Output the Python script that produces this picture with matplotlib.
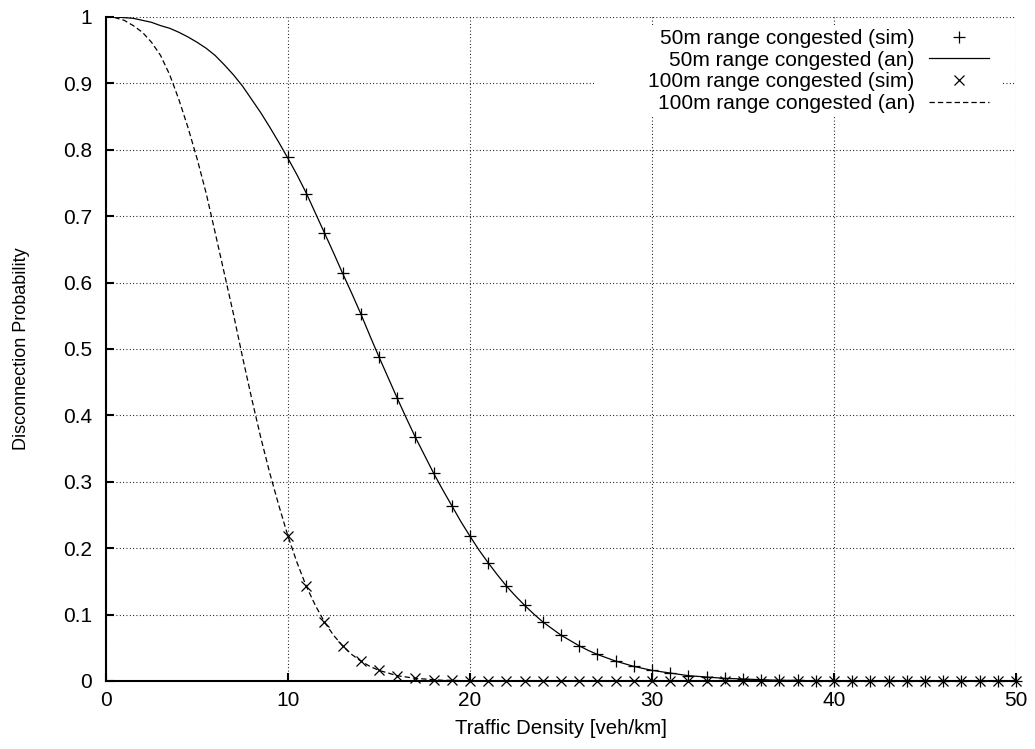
import matplotlib
matplotlib.use('Agg')
import matplotlib.pyplot as plt
from matplotlib.patches import Rectangle

# analytic curve, 50m range (0.5 steps up to 30, then 1 step)
x50_an = [0, 0.5, 1, 1.5, 2, 2.5, 3, 3.5, 4, 4.5, 5, 5.5, 6, 6.5, 7, 7.5, 8, 8.5, 9, 9.5,
          10, 10.5, 11, 11.5, 12, 12.5, 13, 13.5, 14, 14.5, 15, 15.5, 16, 16.5, 17, 17.5,
          18, 18.5, 19, 19.5, 20, 20.5, 21, 21.5, 22, 22.5, 23, 23.5, 24, 24.5, 25, 25.5,
          26, 26.5, 27, 27.5, 28, 28.5, 29, 29.5, 30, 31, 32, 33, 34, 35, 36, 37, 38, 39,
          40, 41, 42, 43, 44, 45, 46, 47, 48, 49, 50]
p50_an = [1.000, 1.000, 0.999, 0.998, 0.995, 0.992, 0.987, 0.983, 0.977, 0.970, 0.962, 0.953,
          0.942, 0.928, 0.913, 0.896, 0.876, 0.856, 0.834, 0.811, 0.787, 0.762, 0.735, 0.705,
          0.675, 0.645, 0.614, 0.584, 0.553, 0.520, 0.488, 0.457, 0.426, 0.396, 0.367, 0.340,
          0.313, 0.288, 0.264, 0.240, 0.218, 0.197, 0.178, 0.160, 0.143, 0.128, 0.114, 0.101,
          0.089, 0.079, 0.069, 0.061, 0.053, 0.046, 0.040, 0.035, 0.030, 0.026, 0.022, 0.019,
          0.016, 0.012, 0.008, 0.006, 0.004, 0.003, 0.002, 0.001, 0.001, 0.0,
          0.0, 0.0, 0.0, 0.0, 0.0, 0.0, 0.0, 0.0, 0.0, 0.0, 0.0]

# analytic curve, 100m range
x100_an = [0, 0.5, 1, 1.5, 2, 2.5, 3, 3.5, 4, 4.5, 5, 5.5, 6, 6.5, 7, 7.5, 8, 8.5, 9, 9.5,
           10, 10.5, 11, 11.5, 12, 12.5, 13, 13.5, 14, 14.5, 15, 15.5, 16, 16.5, 17, 17.5,
           18, 18.5, 19, 20, 25, 30, 35, 40, 45, 50]
p100_an = [1.000, 0.999, 0.995, 0.987, 0.977, 0.962, 0.942, 0.913, 0.876, 0.834, 0.787, 0.735,
           0.675, 0.614, 0.553, 0.488, 0.426, 0.367, 0.313, 0.264, 0.218, 0.178, 0.143, 0.114,
           0.089, 0.069, 0.053, 0.040, 0.030, 0.022, 0.016, 0.012, 0.008, 0.006, 0.004, 0.003,
           0.002, 0.001, 0.001, 0.0, 0.0, 0.0, 0.0, 0.0, 0.0, 0.0]

# simulation points
x_sim = list(range(10, 51))
p50_sim = [0.789, 0.734, 0.675, 0.614, 0.552, 0.488, 0.426, 0.367, 0.313, 0.264,
           0.218, 0.178, 0.143, 0.114, 0.089, 0.069, 0.053, 0.040, 0.030, 0.022,
           0.016, 0.012, 0.008, 0.006, 0.004, 0.003, 0.002, 0.001, 0.001, 0.0,
           0.0, 0.0, 0.0, 0.0, 0.0, 0.0, 0.0, 0.0, 0.0, 0.0, 0.0]
p100_sim = [0.219, 0.143, 0.089, 0.053, 0.030, 0.016, 0.008, 0.004, 0.002, 0.001,
            0.0, 0.0, 0.0, 0.0, 0.0, 0.0, 0.0, 0.0, 0.0, 0.0,
            0.0, 0.0, 0.0, 0.0, 0.0, 0.0, 0.0, 0.0, 0.0, 0.0,
            0.0, 0.0, 0.0, 0.0, 0.0, 0.0, 0.0, 0.0, 0.0, 0.0, 0.0]

labels = ['50m range congested (sim)', '50m range congested (an)',
          '100m range congested (sim)', '100m range congested (an)']

plt.rcParams['font.family'] = ['Liberation Sans', 'DejaVu Sans']
plt.rcParams['font.size'] = 15

fig = plt.figure(figsize=(10.35, 7.49), dpi=100)
ax = fig.add_axes([106 / 1035, 68 / 749, 910 / 1035, 664 / 749])

ax.plot(x_sim, p50_sim, linestyle='none', marker='+', markersize=9, markeredgewidth=0.9,
        color='black', clip_on=False, label=labels[0], zorder=3)
ax.plot(x50_an, p50_an, '-', color='black', linewidth=0.9, label=labels[1], zorder=2)
ax.plot(x_sim, p100_sim, linestyle='none', marker='x', markersize=7, markeredgewidth=0.9,
        color='black', clip_on=False, label=labels[2], zorder=3)
ax.plot(x100_an, p100_an, color='black', linewidth=0.9, linestyle=(0, (4.3, 2.4)),
        label=labels[3], zorder=2)

ax.set_xlim(0, 50)
ax.set_ylim(0, 1)
ax.set_xticks(range(0, 51, 10))
ax.set_yticks([i / 10 for i in range(11)])
ax.set_yticklabels(['0', '0.1', '0.2', '0.3', '0.4', '0.5', '0.6', '0.7', '0.8', '0.9', '1'])

ax.grid(True, color='black', linestyle=(0, (0.8, 2.2)), linewidth=0.8)
ax.set_axisbelow(True)
for s in ['top', 'right']:
    ax.spines[s].set_visible(False)
for s in ['left', 'bottom']:
    ax.spines[s].set_linewidth(1.5)
ax.tick_params(direction='in', length=6, width=1.5, labelsize=15)
ax.tick_params(axis='y', pad=10)
ax.tick_params(axis='x', pad=7)

ax.set_xlabel('Traffic Density [veh/km]', fontsize=14.7)
ax.set_ylabel('Disconnection Probability', fontsize=13)
ax.xaxis.set_label_coords(0.5, -0.057)
ax.yaxis.set_label_coords(-0.084, 0.5)

# white box behind the key, like gnuplot
ax.add_patch(Rectangle((26.8, 0.852), 22.4, 0.136, facecolor='white', edgecolor='none',
                       zorder=1.5))

ax.legend(loc='upper right', bbox_to_anchor=(989 / 1035, 1 - 29 / 749),
          bbox_transform=fig.transFigure, frameon=False, markerfirst=False,
          borderpad=0, borderaxespad=0, handlelength=2.9, handletextpad=0.67,
          labelspacing=0.13, fontsize=15)

fig.savefig('out.png', dpi=100)
